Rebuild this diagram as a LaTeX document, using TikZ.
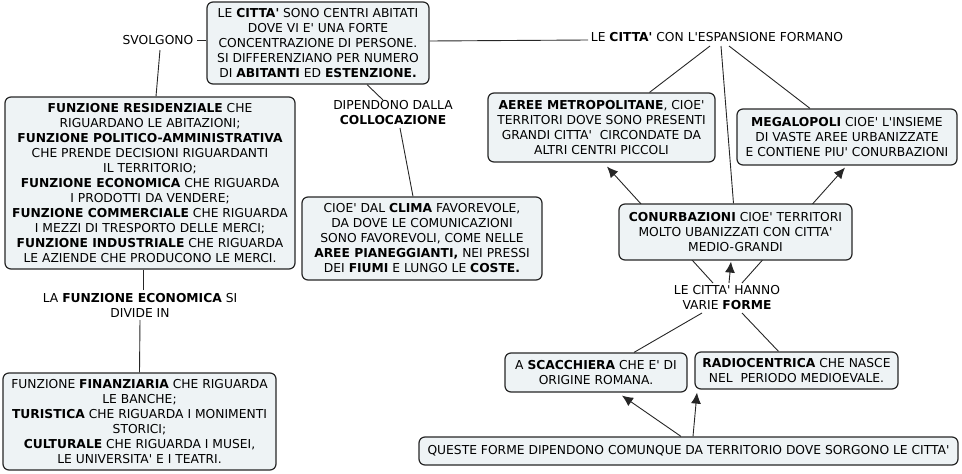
\documentclass[tikz,border=0pt]{standalone}
\usepackage{fontspec}
\setmainfont{DejaVu Sans}[Ligatures=TeXOff]
\usetikzlibrary{arrows.meta,calc,backgrounds}
\definecolor{boxfill}{HTML}{EEF3F5}
\begin{document}
\begin{tikzpicture}[x=1pt,y=-1pt,
  box/.style={draw=black!85,line width=1.2pt,rounded corners=6pt,fill=boxfill,align=center,inner sep=1pt,font=\fontsize{12.3}{15}\selectfont},
  lbl/.style={align=center,inner sep=1pt,font=\fontsize{12.3}{15}\selectfont},
  conn/.style={line width=0.9pt,draw=black!85},
  arr/.style={conn,-{Latex[length=11pt,width=10pt]}}]
\useasboundingbox (0,0) rectangle (962,474);

\node[box,minimum width=222,minimum height=82] (citta) at (318,43)
 {LE \textbf{CITTA'} SONO CENTRI ABITATI\\DOVE VI E' UNA FORTE\\CONCENTRAZIONE DI PERSONE.\\SI DIFFERENZIANO PER NUMERO\\DI \textbf{ABITANTI} ED \textbf{ESTENZIONE.}};
\node[lbl] (svolgono) at (158,40) {SVOLGONO};
\node[box,minimum width=290,minimum height=172] (funz) at (150,183)
 {\textbf{FUNZIONE RESIDENZIALE} CHE\\RIGUARDANO LE ABITAZIONI;\\\textbf{FUNZIONE POLITICO-AMMINISTRATIVA}\\CHE PRENDE DECISIONI RIGUARDANTI\\IL TERRITORIO;\\\textbf{FUNZIONE ECONOMICA} CHE RIGUARDA\\I PRODOTTI DA VENDERE;\\\textbf{FUNZIONE COMMERCIALE} CHE RIGUARDA\\I MEZZI DI TRESPORTO DELLE MERCI;\\\textbf{FUNZIONE INDUSTRIALE} CHE RIGUARDA\\LE AZIENDE CHE PRODUCONO LE MERCI.};
\node[lbl] (econ) at (140,305) {LA \textbf{FUNZIONE ECONOMICA} SI\\DIVIDE IN};
\node[box,minimum width=273,minimum height=97] (fin) at (139.5,421.5)
 {FUNZIONE \textbf{FINANZIARIA} CHE RIGUARDA\\LE BANCHE;\\\textbf{TURISTICA} CHE RIGUARDA I MONIMENTI\\STORICI;\\\textbf{CULTURALE} CHE RIGUARDA I MUSEI,\\LE UNIVERSITA' E I TEATRI.};
\node[lbl] (dipendono) at (393,113) {DIPENDONO DALLA\\\textbf{COLLOCAZIONE}};
\node[box,minimum width=240,minimum height=83] (cioe) at (422,238.5)
 {CIOE' DAL \textbf{CLIMA} FAVOREVOLE,\\DA DOVE LE COMUNICAZIONI\\SONO FAVOREVOLI, COME NELLE\\\textbf{AREE PIANEGGIANTI,} NEI PRESSI\\DEI \textbf{FIUMI} E LUNGO LE \textbf{COSTE.}};
\node[lbl] (espansione) at (717,37) {LE \textbf{CITTA'} CON L'ESPANSIONE FORMANO};
\node[box,minimum width=227,minimum height=69] (aeree) at (601.5,127.5)
 {\textbf{AEREE METROPOLITANE}, CIOE'\\TERRITORI DOVE SONO PRESENTI\\GRANDI CITTA'~~CIRCONDATE DA\\ALTRI CENTRI PICCOLI};
\node[box,minimum width=220,minimum height=56] (megalopoli) at (847,137)
 {\textbf{MEGALOPOLI} CIOE' L'INSIEME\\DI VASTE AREE URBANIZZATE\\E CONTIENE PIU' CONURBAZIONI};
\node[box,minimum width=233,minimum height=56] (conurb) at (735.5,232)
 {\textbf{CONURBAZIONI} CIOE' TERRITORI\\MOLTO UBANIZZATI CON CITTA'\\MEDIO-GRANDI};
\node[lbl] (hanno) at (727,298) {LE CITTA' HANNO\\VARIE \textbf{FORME}};
\node[box,minimum width=182,minimum height=39] (scacchiera) at (596,372.5)
 {A \textbf{SCACCHIERA} CHE E' DI\\ORIGINE ROMANA.};
\node[box,minimum width=203,minimum height=37] (radio) at (796.5,370.5)
 {\textbf{RADIOCENTRICA} CHE NASCE\\NEL~~PERIODO MEDIOEVALE.};
\node[box,minimum width=539,minimum height=28] (queste) at (688.5,451)
 {QUESTE FORME DIPENDONO COMUNQUE DA TERRITORIO DOVE SORGONO LE CITTA'};

\begin{pgfonlayer}{background}
\draw[conn] ($(svolgono.center)+(39,0)$) -- ($(citta.west)+(0,-3)$);
\draw[conn] ($(svolgono.center)+(2,10)$) -- ($(funz.north)+(6,0)$);
\draw[conn] ($(funz.south)+(-7,0)$) -- ($(econ.center)+(3,-15)$);
\draw[conn] ($(econ.center)+(0,15)$) -- ($(fin.north)+(0,0)$);
\draw[conn] ($(citta.south)+(49,0)$) -- ($(dipendono.center)+(-10,-13)$);
\draw[conn] ($(dipendono.center)+(7,15)$) -- ($(cioe.north)+(-9,0)$);
\draw[conn] ($(citta.east)+(0,-2)$) -- ($(espansione.center)+(-129,3)$);
\draw[conn] ($(espansione.center)+(-7,9)$) -- ($(aeree.north)+(48,0)$);
\draw[conn] ($(espansione.center)+(12,9)$) -- ($(megalopoli.north)+(-37,0)$);
\draw[conn] ($(espansione.center)+(4,9)$) -- ($(conurb.north)+(-2,0)$);
\draw[arr] ($(hanno.center)+(-14,-15)$) -- ($(aeree.south)+(5.5,4)$);
\draw[arr] ($(hanno.center)+(15,-15)$) -- ($(megalopoli.south)+(-2,2)$);
\draw[arr] ($(hanno.center)+(2,-15)$) -- ($(conurb.south)+(-4.5,1)$);
\draw[conn] ($(hanno.center)+(-25,15)$) -- ($(scacchiera.north)+(38,0)$);
\draw[conn] ($(hanno.center)+(15,15)$) -- ($(radio.north)+(-18,0)$);
\draw[arr] ($(queste.north)+(-7.5,0)$) -- ($(scacchiera.south)+(26,3)$);
\draw[arr] ($(queste.north)+(4.5,0)$) -- ($(radio.south)+(-99.5,3)$);
\end{pgfonlayer}
\end{tikzpicture}
\end{document}
